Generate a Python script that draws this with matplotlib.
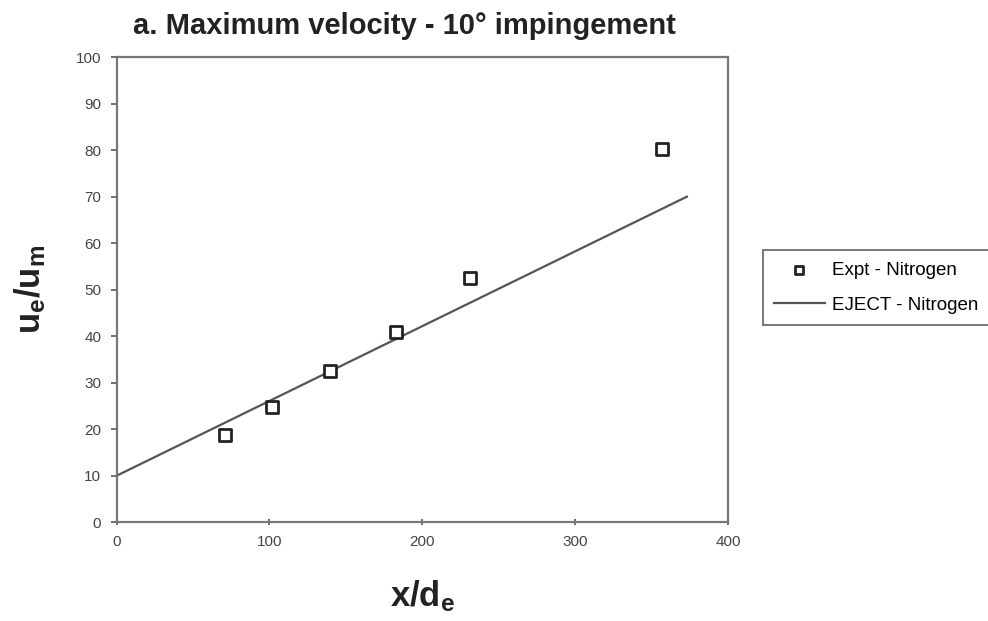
"""Maximum velocity decay for 10 degree impingement: experiment vs EJECT."""

import matplotlib

matplotlib.use("Agg")

import matplotlib.pyplot as plt

plt.rcParams["font.family"] = ["Liberation Sans", "DejaVu Sans"]
plt.rcParams["mathtext.fontset"] = "custom"
plt.rcParams["mathtext.rm"] = "Liberation Sans"
plt.rcParams["mathtext.bf"] = "Liberation Sans:bold"

# experimental nitrogen data
expt_x = [70.7, 101.5, 139.4, 182.6, 231.0, 356.8]
expt_y = [18.7, 24.7, 32.5, 40.9, 52.5, 80.2]

# EJECT model prediction (straight line)
eject_x = [0, 373]
eject_y = [10.0, 70.0]

x_ticks = [0, 100, 200, 300, 400]
y_ticks = list(range(0, 101, 10))

fig = plt.figure(figsize=(9.88, 6.21), dpi=100)
ax = fig.add_axes([0.118, 0.159, 0.619, 0.749])

ax.plot(eject_x, eject_y, color="#555555", linewidth=1.6, label="EJECT - Nitrogen", zorder=2)
ax.scatter(expt_x, expt_y, marker="s", s=70, facecolors="white", edgecolors="#222222",
           linewidths=2.0, label="Expt - Nitrogen", zorder=3)

ax.set_xlim(0, 400)
ax.set_ylim(0, 100)
ax.set_xticks(x_ticks)
ax.set_yticks(y_ticks)
ax.tick_params(axis="both", labelsize=11, labelcolor="#444444", colors="#555555",
               length=4, width=1.2)
ax.tick_params(axis="x", direction="inout", pad=7)
ax.tick_params(axis="y", direction="out", pad=7)
for spine in ax.spines.values():
    spine.set_color("#777777")
    spine.set_linewidth(1.6)

ax.set_title("a. Maximum velocity - 10° impingement", fontsize=21, fontweight="bold",
             color="#222222", pad=17, x=0.47)
ax.set_xlabel(r"$\mathbf{x/d_e}$", fontsize=25, color="#222222", labelpad=21)
ax.set_ylabel(r"$\mathbf{u_e/u_m}$", fontsize=25, color="#222222", labelpad=20)

handles, labels = ax.get_legend_handles_labels()
leg = fig.legend(handles[::-1], labels[::-1], loc="upper left", bbox_to_anchor=(0.772, 0.597),
                 fontsize=13.5, frameon=True, fancybox=False, edgecolor="#555555",
                 handlelength=2.7, borderpad=0.6, labelspacing=0.95, markerscale=0.75,
                 handletextpad=0.4, borderaxespad=0)
leg.get_frame().set_linewidth(1.4)

fig.savefig("out.png", dpi=100, facecolor="white")
